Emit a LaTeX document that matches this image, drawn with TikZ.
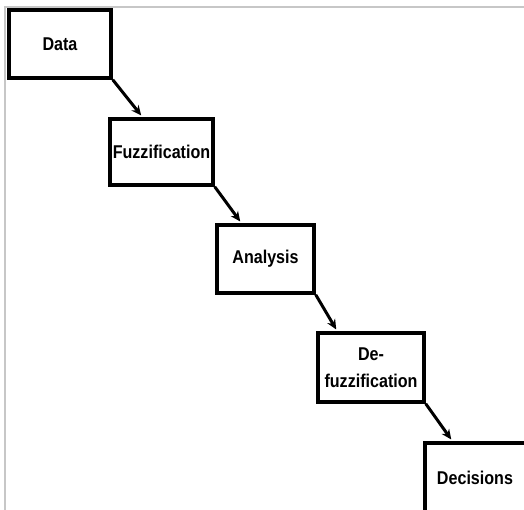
\documentclass[tikz,border=0pt]{standalone}
\usepackage{fontspec}
\setmainfont{Liberation Sans}
\usetikzlibrary{calc,arrows.meta}
\newcommand{\squeeze}[1]{\scalebox{0.87}[1]{#1}}

\begin{document}
\begin{tikzpicture}[x=1pt,y=-1pt,line join=miter,>={Stealth[length=10pt,width=9pt]}]
\tikzset{stage/.style={draw,line width=3.5pt,align=center,inner sep=0pt,font=\fontsize{18.5}{27}\selectfont\bfseries},
  flow/.style={->,line width=3pt}}
\useasboundingbox (0,0) rectangle (524,510);
\clip (0,0) rectangle (524,510);
\draw[black!22,line width=1.5pt] (5,510)--(5,7)--(524,7);
% stages
\node[stage,minimum width=102pt,minimum height=68pt] (data) at (60,44) {\squeeze{Data}};
\node[stage,minimum width=103pt,minimum height=66pt] (fuzz) at (161.5,152) {\squeeze{Fuzzification}};
\node[stage,minimum width=97pt,minimum height=68pt] (anal) at (265.5,259) {\squeeze{Analysis}};
\node[stage,minimum width=106pt,minimum height=69pt] (defuzz) at (371,367.5) {\squeeze{De-}\\\squeeze{fuzzification}};
\node[stage,minimum width=106pt,minimum height=69pt] (dec) at (478,477.5) {\hspace*{-6pt}\squeeze{Decisions}};
% arrows
\draw[flow] (data.south east)--($(fuzz.north west)+(33,-1.75)$);
\draw[flow] (fuzz.south east)--($(anal.north west)+(25,-1.75)$);
\draw[flow] (anal.south east)--($(defuzz.north west)+(20,-1.75)$);
\draw[flow] (defuzz.south east)--($(dec.north west)+(28,-1.75)$);
\end{tikzpicture}
\end{document}
